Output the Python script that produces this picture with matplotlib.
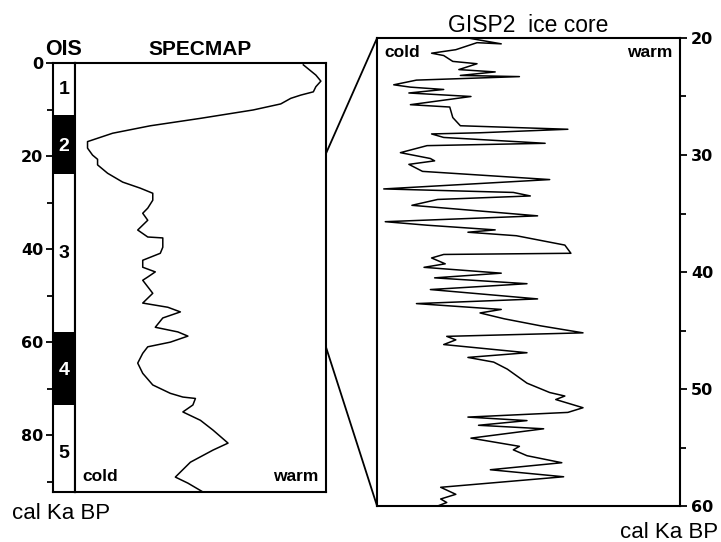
import matplotlib
matplotlib.use("Agg")
import matplotlib.pyplot as plt
from matplotlib.patches import ConnectionPatch

plt.rcParams['font.family'] = ['Liberation Sans', 'DejaVu Sans']

# SPECMAP curve (relative cold -> warm index, 0..1) against age (cal ka BP)
spec_age = [0.4, 2.6, 3.9, 5.1, 6.2, 6.9, 7.6, 8.8, 10.1, 11.9, 13.5, 15.1, 16.9, 18.3,
            19.8, 20.7, 21.9, 23.7, 25.6, 26.9, 28.0, 29.5, 31.2, 32.3, 33.8, 35.9, 37.4,
            37.6, 39.6, 40.9, 42.4, 43.9, 44.9, 46.0, 46.7, 49.5, 51.6, 52.5, 53.5, 54.8,
            56.8, 57.8, 58.7, 60.0, 61.0, 62.4, 64.5, 66.7, 69.2, 71.0, 71.8, 72.1, 73.5,
            75.0, 76.8, 78.9, 81.7, 83.2, 85.8, 89.0, 90.3, 92.2]
spec_val = [0.91, 0.96, 0.98, 0.96, 0.95, 0.90, 0.86, 0.82, 0.71, 0.50, 0.30, 0.15, 0.05, 0.05,
            0.07, 0.09, 0.09, 0.13, 0.19, 0.26, 0.31, 0.31, 0.29, 0.27, 0.29, 0.25, 0.29,
            0.35, 0.35, 0.34, 0.27, 0.27, 0.32, 0.29, 0.27, 0.31, 0.27, 0.37, 0.42, 0.35,
            0.32, 0.41, 0.45, 0.38, 0.29, 0.27, 0.25, 0.27, 0.31, 0.38, 0.43, 0.48, 0.47,
            0.43, 0.50, 0.55, 0.61, 0.55, 0.46, 0.40, 0.45, 0.51]

# GISP2 curve (relative cold -> warm index, 0..1) against age (cal ka BP)
gisp_age = [20.0, 20.5, 20.4, 21.0, 21.3, 21.5, 22.0, 22.2, 22.7, 22.9, 23.2, 23.3, 23.6, 24.0,
            24.2, 24.4, 24.7, 25.0, 25.7, 25.9, 26.8, 27.5, 27.8, 28.1, 28.2, 28.5, 29.0,
            29.2, 29.8, 30.3, 30.5, 30.8, 31.4, 32.1, 32.9, 33.2, 33.5, 33.8, 34.3, 35.2,
            35.7, 36.0, 36.4, 36.6, 36.9, 37.7, 38.4, 38.5, 38.8, 39.3, 39.6, 40.1, 40.5,
            41.0, 41.5, 42.3, 42.7, 43.2, 43.5, 44.0, 44.6, 45.2, 45.5, 45.8, 46.2, 46.9,
            47.3, 47.7, 48.3, 49.5, 50.3, 50.6, 50.9, 51.6, 52.0, 52.4, 52.7, 53.1, 53.4,
            54.2, 54.9, 55.2, 55.7, 56.3, 56.9, 57.5, 58.4, 59.0, 59.4, 59.7, 60.0]
gisp_val = [0.30, 0.41, 0.33, 0.26, 0.18, 0.22, 0.25, 0.33, 0.27, 0.39, 0.275, 0.47, 0.13, 0.055,
            0.11, 0.22, 0.105, 0.31, 0.11, 0.24, 0.25, 0.275, 0.63, 0.34, 0.18, 0.22, 0.555,
            0.165, 0.077, 0.176, 0.19, 0.105, 0.15, 0.57, 0.022, 0.45, 0.506, 0.20, 0.115, 0.53,
            0.027, 0.165, 0.39, 0.30, 0.46, 0.62, 0.64, 0.22, 0.18, 0.225, 0.155, 0.41, 0.19,
            0.495, 0.176, 0.53, 0.13, 0.41, 0.34, 0.42, 0.54, 0.68, 0.23, 0.26, 0.22, 0.495,
            0.30, 0.385, 0.43, 0.495, 0.57, 0.62, 0.59, 0.68, 0.63, 0.30, 0.495, 0.335, 0.55,
            0.31, 0.47, 0.45, 0.495, 0.61, 0.374, 0.616, 0.21, 0.26, 0.21, 0.23, 0.20]

# oxygen isotope stages: (top, bottom, label, label position)
ois_top = [0, 11.2, 23.9, 57.9, 73.5]
ois_bottom = [11.2, 23.9, 57.9, 73.5, 92.2]
ois_label = ['1', '2', '3', '4', '5']
ois_label_y = [5.8, 18.0, 41.0, 66.0, 84.0]
ois_dark = [False, True, False, True, False]

age_max = 92.2

fig = plt.figure(figsize=(7.21, 5.42), dpi=100)

# OIS column
ax0 = fig.add_axes([0.0735, 0.0923, 0.0305, 0.7915])
for top, bot, lab, ly, dark in zip(ois_top, ois_bottom, ois_label, ois_label_y, ois_dark):
    if dark:
        ax0.axhspan(top, bot, color='black', lw=0)
    ax0.text(0.5, ly, lab, ha='center', va='center', fontsize=14, fontweight='bold',
             color='white' if dark else 'black')
ax0.set_ylim(age_max, 0)
ax0.set_xlim(0, 1)
ax0.set_xticks([])
ax0.set_yticks([0, 20, 40, 60, 80])
ax0.set_yticks([10, 30, 50, 70, 90], minor=True)
ax0.tick_params(axis='y', which='major', length=5, width=1.3, pad=2)
ax0.tick_params(axis='y', which='minor', length=4, width=1.3)
for lab in ax0.get_yticklabels():
    lab.set_family('DejaVu Sans')
    lab.set_fontweight('bold')
    lab.set_fontsize(11.5)
for sp in ax0.spines.values():
    sp.set_linewidth(1.5)
ax0.set_title('OIS', fontsize=15.5, fontweight='bold', pad=6)

# SPECMAP panel
ax1 = fig.add_axes([0.104, 0.0923, 0.348, 0.7915])
ax1.plot(spec_val, spec_age, color='black', lw=1.1)
ax1.set_ylim(age_max, 0)
ax1.set_xlim(0, 1)
ax1.set_xticks([])
ax1.set_yticks([])
for sp in ax1.spines.values():
    sp.set_linewidth(1.5)
ax1.set_title('SPECMAP', fontsize=15, fontweight='bold', pad=6)
ax1.text(0.03, 0.035, 'cold', transform=ax1.transAxes, fontsize=12.5, fontweight='bold',
         ha='left', va='center')
ax1.text(0.97, 0.035, 'warm', transform=ax1.transAxes, fontsize=12.5, fontweight='bold',
         ha='right', va='center')

fig.text(0.017, 0.052, 'cal Ka BP', fontsize=16, ha='left', va='center')

# GISP2 panel
ax2 = fig.add_axes([0.523, 0.0664, 0.420, 0.8635])
ax2.plot(gisp_val, gisp_age, color='black', lw=1.1)
ax2.set_ylim(60, 20)
ax2.set_xlim(0, 1)
ax2.set_xticks([])
ax2.yaxis.tick_right()
ax2.set_yticks([20, 30, 40, 50, 60])
ax2.set_yticks([25, 35, 45, 55], minor=True)
ax2.tick_params(axis='y', which='major', length=5, width=1.3, pad=3)
ax2.tick_params(axis='y', which='minor', length=4, width=1.3)
for lab in ax2.get_yticklabels():
    lab.set_family('DejaVu Sans')
    lab.set_fontweight('bold')
    lab.set_fontsize(11.5)
for sp in ax2.spines.values():
    sp.set_linewidth(1.5)
ax2.set_title('GISP2  ice core', fontsize=16.5, pad=4)
ax2.text(0.025, 0.968, 'cold', transform=ax2.transAxes, fontsize=12.5, fontweight='bold',
         ha='left', va='center')
ax2.text(0.975, 0.968, 'warm', transform=ax2.transAxes, fontsize=12.5, fontweight='bold',
         ha='right', va='center')

fig.text(0.996, 0.017, 'cal Ka BP', fontsize=16, ha='right', va='center')

# zoom connector lines
for a_age, b_age in [(19.5, 20), (61.0, 60)]:
    con = ConnectionPatch(xyA=(1, a_age), coordsA=ax1.transData,
                          xyB=(0, b_age), coordsB=ax2.transData,
                          color='black', lw=1.3)
    fig.add_artist(con)

fig.savefig('out.png', dpi=100)
